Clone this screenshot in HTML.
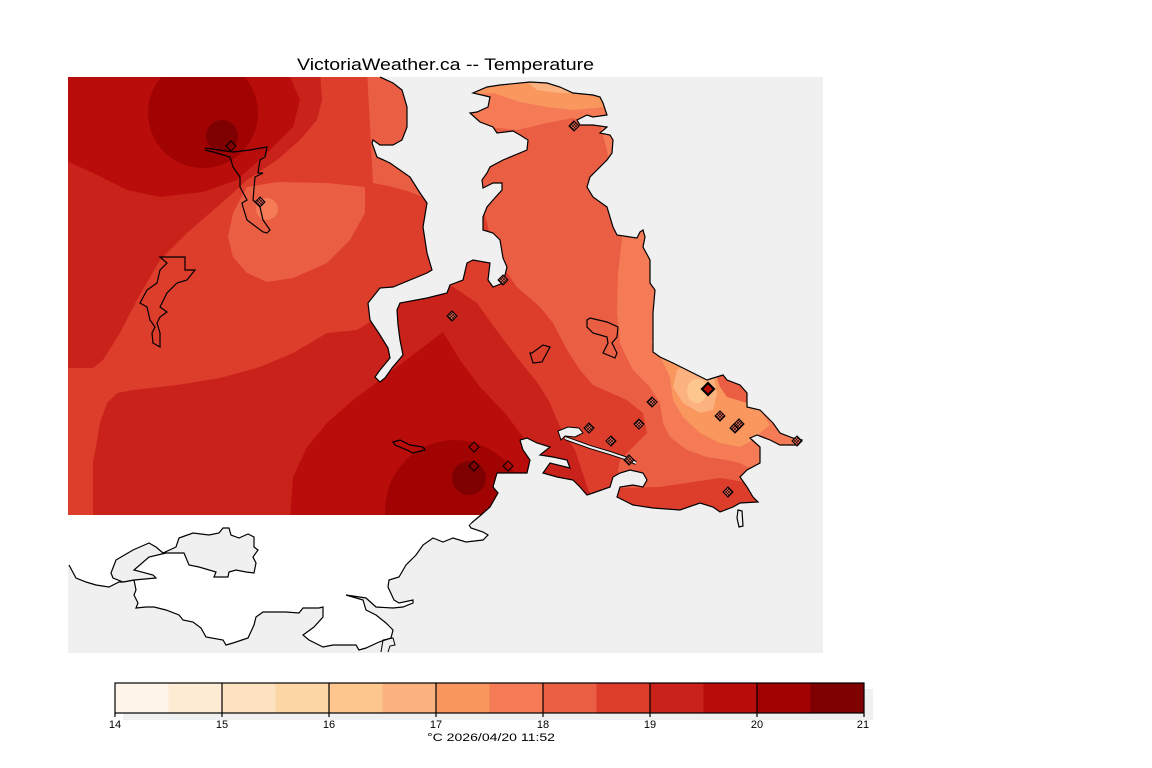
<!DOCTYPE html>
<html><head><meta charset="utf-8"><style>
html,body{margin:0;padding:0;background:#fff;}
svg{display:block;}
text{font-family:"Liberation Sans",sans-serif;fill:#000;}
</style></head><body>
<svg width="1152" height="768" viewBox="0 0 1152 768" xmlns="http://www.w3.org/2000/svg">
<defs>
<clipPath id="land"><polygon points="68,77 367,77 380,77 393,83 402,90 407,107 407,127 402,140 393,145 380,145 373,140 372,143 377,157 390,163 410,177 420,193 427,203 423,227 427,253 432,270 427,273 393,287 380,288 368,303 370,320 380,335 388,348 390,358 380,370 375,377 380,382 385,378 392,368 403,355 400,340 398,325 397,310 400,303 427,298 447,293 450,285 463,280 467,263 473,260 490,263 488,280 493,287 503,283 507,267 503,258 500,240 493,233 483,230 483,217 487,207 493,200 502,190 502,183 493,183 483,188 482,180 487,173 490,167 503,160 527,150 528,140 520,135 513,131 497,133 493,127 480,122 470,113 477,112 488,107 490,97 473,93 487,87 500,85 530,82 547,83 560,87 573,93 593,95 600,97 603,103 607,115 593,117 587,115 577,120 580,125 593,125 607,127 600,133 610,135 613,140 612,153 607,160 590,177 587,187 593,197 607,207 610,217 613,227 617,235 637,238 640,232 643,230 645,237 643,247 650,260 650,283 655,290 653,313 653,352 660,357 673,363 693,373 707,380 723,375 727,380 740,385 747,393 747,407 760,410 767,417 773,423 780,433 793,438 802,440 798,445 780,445 770,440 757,435 750,438 760,447 760,463 747,470 740,477 747,487 753,497 758,502 740,503 733,507 720,512 713,507 700,503 680,510 653,508 633,505 617,497 620,487 633,485 643,487 647,480 643,473 630,470 620,473 613,477 610,487 593,493 587,495 580,487 573,480 557,477 543,473 550,463 570,468 567,460 553,457 540,455 550,447 537,443 527,438 520,440 523,450 530,460 527,473 497,473 493,487 498,493 490,507 481,515 68,515"/></clipPath>
<pattern id="hatch" width="3" height="3" patternUnits="userSpaceOnUse"><rect width="3" height="3" fill="#e86a55"/><path d="M0,0 L3,3 M3,0 L0,3" stroke="#000" stroke-width="0.6"/></pattern>
</defs>

<!-- title -->
<text x="297" y="70" font-size="17" textLength="297" lengthAdjust="spacingAndGlyphs">VictoriaWeather.ca -- Temperature</text>

<!-- map background (water) -->
<rect x="68" y="77" width="755" height="576" fill="#f0f0f0"/>

<!-- colored field -->
<g clip-path="url(#land)">
<rect x="60" y="70" width="770" height="450" fill="#dd3d2b"/>
<polygon fill="#c9221b" points="60,70 320,70 322,100 317,120 300,140 277,160 247,180 233,193 210,213 187,233 160,260 137,300 120,333 103,360 93,368 60,368"/>
<polygon fill="#b80d0a" points="60,70 287,70 300,100 293,127 267,153 237,180 203,192 160,197 127,190 93,173 60,158"/>
<circle cx="203" cy="113" r="55" fill="#a10303"/>
<circle cx="222" cy="136" r="16" fill="#7f0000"/>
<polygon fill="#ea5e43" points="367,70 430,70 430,200 410,192 393,187 373,183"/>
<polygon fill="#ea5e43" points="247,187 277,182 327,183 365,187 365,213 350,240 327,263 293,278 267,282 247,273 233,257 228,237 233,213"/>
<circle cx="267" cy="209" r="11" fill="#f47b55"/>
<polygon fill="#c9221b" points="60,520 93,520 93,463 100,423 107,403 117,393 133,390 177,385 220,378 260,367 293,353 327,333 357,330 373,320 393,300 420,290 447,283 477,303 500,335 523,365 537,382 550,403 560,427 575,450 590,495 600,520"/>
<polygon fill="#b80d0a" points="290,520 293,477 307,447 327,423 353,400 380,380 410,357 443,332 460,360 480,387 505,413 523,437 533,457 545,480 550,520"/>
<circle cx="455" cy="510" r="70" fill="#a10303"/>
<circle cx="469" cy="478" r="17" fill="#7f0000"/>
<!-- peninsula -->
<polygon fill="#ea5e43" points="460,60 830,60 830,478 750,483 720,478 693,482 660,487 620,488 618,470 620,460 633,447 647,433 643,413 627,400 593,385 580,370 567,350 553,323 540,307 517,287 503,267 500,245 490,235 485,215 470,200"/>
<polygon fill="#f47b55" points="460,60 830,60 830,470 747,467 740,463 727,460 707,457 687,450 670,437 663,423 660,403 650,387 633,370 623,350 620,343 617,313 618,273 622,240 615,200 607,150 600,125 573,118 547,123 517,130 470,125"/>
<polygon fill="#f9975f" points="460,60 625,60 605,107 573,110 547,107 520,102 493,93 470,95"/>
<polygon fill="#f9975f" points="650,340 700,360 720,370 730,380 745,390 760,410 770,425 760,433 753,440 740,447 720,443 700,433 683,417 673,400 670,377 657,350"/>
<polygon fill="#ea5e43" points="717,378 727,372 745,380 752,400 747,403 727,397 720,387"/>
<polygon fill="#fcb27e" points="500,70 610,70 590,93 577,93 560,93 537,90 527,82"/>
<polygon fill="#fcb27e" points="687,363 700,367 713,373 717,393 713,410 700,413 683,403 673,387 677,370"/>
<ellipse cx="697" cy="391" rx="10" ry="12" fill="#fdc68e"/>
</g>

<!-- harbour / gorge waters -->
<path d="M565,438 L590,447 L610,453 L625,458 L636,463" fill="none" stroke="#000" stroke-width="4"/>
<path d="M565,438 L590,447 L610,453 L625,458 L636,463" fill="none" stroke="#f0f0f0" stroke-width="2"/>
<polygon points="558,431 568,427 579,428 583,433 575,437 565,436 561,440" fill="#f0f0f0" stroke="#000" stroke-width="1"/>

<!-- coastline of colored land -->
<polyline fill="none" stroke="#000" stroke-width="1.2" points="380,77 393,83 402,90 407,107 407,127 402,140 393,145 380,145 373,140 372,143 377,157 390,163 410,177 420,193 427,203 423,227 427,253 432,270 427,273 393,287 380,288 368,303 370,320 380,335 388,348 390,358 380,370 375,377 380,382 385,378 392,368 403,355 400,340 398,325 397,310 400,303 427,298 447,293 450,285 463,280 467,263 473,260 490,263 488,280 493,287 503,283 507,267 503,258 500,240 493,233 483,230 483,217 487,207 493,200 502,190 502,183 493,183 483,188 482,180 487,173 490,167 503,160 527,150 528,140 520,135 513,131 497,133 493,127 480,122 470,113 477,112 488,107 490,97 473,93 487,87 500,85 530,82 547,83 560,87 573,93 593,95 600,97 603,103 607,115 593,117 587,115 577,120 580,125 593,125 607,127 600,133 610,135 613,140 612,153 607,160 590,177 587,187 593,197 607,207 610,217 613,227 617,235 637,238 640,232 643,230 645,237 643,247 650,260 650,283 655,290 653,313 653,352 660,357 673,363 693,373 707,380 723,375 727,380 740,385 747,393 747,407 760,410 767,417 773,423 780,433 793,438 802,440 798,445 780,445 770,440 757,435 750,438 760,447 760,463 747,470 740,477 747,487 753,497 758,502 740,503 733,507 720,512 713,507 700,503 680,510 653,508 633,505 617,497 620,487 633,485 643,487 647,480 643,473 630,470 620,473 613,477 610,487 593,493 587,495 580,487 573,480 557,477 543,473 550,463 570,468 567,460 553,457 540,455 550,447 537,443 527,438 520,440 523,450 530,460 527,473 497,473 493,487 498,493 490,507 481,515 469,525"/>

<!-- southern (no data) land -->
<polygon fill="#fff" points="68,515 478,515 469,525 471,528 483,532 488,535 483,540 466,542 453,538 443,542 433,538 423,545 416,555 406,565 399,577 389,580 388,587 394,600 399,603 413,600 413,603 403,607 393,608 376,607 366,598 346,595 363,600 366,610 376,615 386,623 393,630 391,638 379,642 366,648 359,650 356,645 333,645 323,647 309,640 303,635 314,627 323,617 323,607 319,608 303,608 299,613 286,612 263,612 256,617 254,625 248,638 233,643 226,645 223,640 206,637 201,628 193,622 183,620 179,615 166,610 154,607 146,607 136,608 138,603 134,595 136,590 134,580 123,582 119,582 109,587 96,585 86,582 76,578 69,565 68,565"/>
<polyline fill="none" stroke="#000" stroke-width="1.2" points="469,525 471,528 483,532 488,535 483,540 466,542 453,538 443,542 433,538 423,545 416,555 406,565 399,577 389,580 388,587 394,600 399,603 413,600 413,603 403,607 393,608 376,607 366,598 346,595 363,600 366,610 376,615 386,623 393,630 391,638 379,642 366,648 359,650 356,645 333,645 323,647 309,640 303,635 314,627 323,617 323,607 319,608 303,608 299,613 286,612 263,612 256,617 254,625 248,638 233,643 226,645 223,640 206,637 201,628 193,622 183,620 179,615 166,610 154,607 146,607 136,608 138,603 134,595 136,590 134,580 123,582 119,582 109,587 96,585 86,582 76,578 69,565"/>
<polygon fill="#f0f0f0" stroke="#000" stroke-width="1.2" points="111,573 116,560 133,550 149,543 156,547 163,553 176,547 179,538 193,533 209,535 219,533 223,528 229,528 231,535 239,538 248,534 254,537 254,547 258,550 253,557 256,563 254,573 246,572 236,570 229,572 228,577 214,577 216,572 199,567 189,565 184,553 166,553 149,557 134,570 153,575 156,578 134,580 123,582 113,578"/>
<path d="M381,652 L383,640 L393,638 L395,645 L390,646 L388,652" fill="none" stroke="#000" stroke-width="1"/>

<!-- lakes -->
<g fill="none" stroke="#000" stroke-width="1.2">
<polygon points="160,257 185,257 185,270 195,270 187,280 177,283 167,293 160,307 167,312 160,317 157,323 160,333 160,347 153,343 152,333 155,327 150,320 147,307 140,303 147,290 157,283 160,270 167,263"/>
<polyline points="205,148 233,152 250,150 267,147 265,157 260,160 258,173 263,173 255,177 253,200 260,207 263,220 270,230 267,233 263,232 247,220 243,207 242,203 247,200 240,187 240,177 233,167 230,157 217,153 205,150"/>
<polygon points="587,320 590,318 607,322 618,327 617,337 612,343 617,353 615,358 603,353 608,343 607,337 593,333 587,327"/>
<polygon points="532,353 543,345 550,347 542,362 533,363 530,353"/>
<polygon points="393,442 400,440 410,445 423,447 425,450 413,453 407,450 395,445"/>
<polygon points="738,510 742,511 743,526 739,527 737,518" fill="#f0f0f0"/>
</g>

<!-- station markers -->
<g stroke="#000" stroke-width="1">
<g fill="none">
<path d="M231,141 l5,5 l-5,5 l-5,-5z"/>
<path d="M474,442 l5,5 l-5,5 l-5,-5z"/>
<path d="M474,461 l5,5 l-5,5 l-5,-5z"/>
<path d="M508,461 l5,5 l-5,5 l-5,-5z"/>
</g>
<g fill="url(#hatch)">
<path d="M260,197 l5,5 l-5,5 l-5,-5z"/>
<path d="M452,311 l5,5 l-5,5 l-5,-5z"/>
<path d="M503,275 l5,5 l-5,5 l-5,-5z"/>
<path d="M574,121 l5,5 l-5,5 l-5,-5z"/>
<path d="M589,423 l5,5 l-5,5 l-5,-5z"/>
<path d="M611,436 l5,5 l-5,5 l-5,-5z"/>
<path d="M639,419 l5,5 l-5,5 l-5,-5z"/>
<path d="M652,397 l5,5 l-5,5 l-5,-5z"/>
<path d="M720,411 l5,5 l-5,5 l-5,-5z"/>
<path d="M735,423 l5,5 l-5,5 l-5,-5z"/>
<path d="M739,419 l5,5 l-5,5 l-5,-5z"/>
<path d="M728,487 l5,5 l-5,5 l-5,-5z"/>
<path d="M797,436 l5,5 l-5,5 l-5,-5z"/>
<path d="M629,455 l5,5 l-5,5 l-5,-5z"/>
</g>
<path d="M708,383 l6,6 l-6,6 l-6,-6z" fill="#b80d0a" stroke-width="2.2"/>
</g>

<!-- colorbar -->
<rect x="123" y="689" width="750" height="31" fill="#f0f0f0"/>
<g>
<rect x="115" y="683" width="53.5" height="30" fill="#fff5eb"/>
<rect x="168.5" y="683" width="53.5" height="30" fill="#feebd4"/>
<rect x="222" y="683" width="53.5" height="30" fill="#fde2c2"/>
<rect x="275.5" y="683" width="53.5" height="30" fill="#fdd6a6"/>
<rect x="329" y="683" width="53.5" height="30" fill="#fdc68e"/>
<rect x="382.5" y="683" width="53.5" height="30" fill="#fcb27e"/>
<rect x="436" y="683" width="53.5" height="30" fill="#f9975f"/>
<rect x="489.5" y="683" width="53.5" height="30" fill="#f47b55"/>
<rect x="543" y="683" width="53.5" height="30" fill="#ea5e43"/>
<rect x="596.5" y="683" width="53.5" height="30" fill="#dd3d2b"/>
<rect x="650" y="683" width="53.5" height="30" fill="#c9221b"/>
<rect x="703.5" y="683" width="53.5" height="30" fill="#b80d0a"/>
<rect x="757" y="683" width="53.5" height="30" fill="#a10303"/>
<rect x="810.5" y="683" width="53.5" height="30" fill="#7f0000"/>
</g>
<rect x="115" y="683" width="749" height="30" fill="none" stroke="#000" stroke-width="1.2"/>
<g stroke="#000" stroke-width="1.2">
<line x1="222" y1="683" x2="222" y2="717"/>
<line x1="329" y1="683" x2="329" y2="717"/>
<line x1="436" y1="683" x2="436" y2="717"/>
<line x1="543" y1="683" x2="543" y2="717"/>
<line x1="650" y1="683" x2="650" y2="717"/>
<line x1="757" y1="683" x2="757" y2="717"/>
<line x1="115" y1="713" x2="115" y2="717"/>
<line x1="864" y1="713" x2="864" y2="717"/>
</g>
<g font-size="11" text-anchor="middle">
<text x="115" y="728">14</text>
<text x="222" y="728">15</text>
<text x="329" y="728">16</text>
<text x="436" y="728">17</text>
<text x="543" y="728">18</text>
<text x="650" y="728">19</text>
<text x="757" y="728">20</text>
<text x="863" y="728">21</text>
</g>
<text x="427" y="741" font-size="11" textLength="128" lengthAdjust="spacingAndGlyphs">°C  2026/04/20 11:52</text>
</svg>
</body></html>
